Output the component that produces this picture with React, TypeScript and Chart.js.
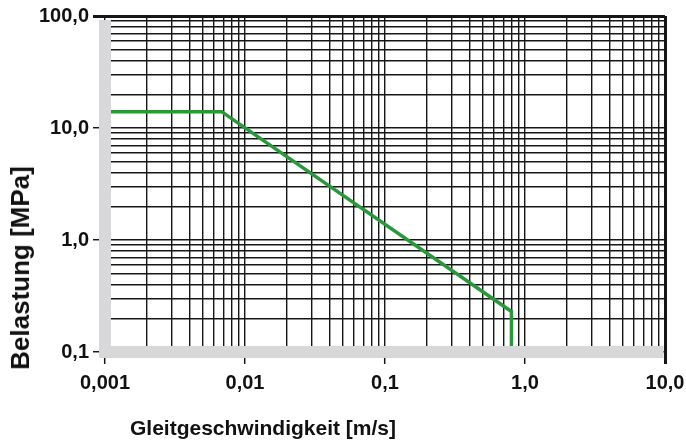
import React, { useEffect, useRef } from "react";
import { Chart, registerables } from "chart.js";

Chart.register(...registerables);

// Data
const speedValues = [0.001, 0.0068, 0.8, 0.8];
const loadValues = [14, 14, 0.23, 0.1];

// Axis decades and their tick labels
const xDecades = [0.001, 0.01, 0.1, 1, 10];
const xTickLabels = ["0,001", "0,01", "0,1", "1,0", "10,0"];
const yDecades = [0.1, 1, 10, 100];
const yTickLabels = ["0,1", "1,0", "10,0", "100,0"];

const xTitle = "Gleitgeschwindigkeit [m/s]";
const yTitle = "Belastung [MPa]";

const FONT = "'Liberation Sans', Arial, Helvetica, sans-serif";
const GRID = "#161616";
const GREEN = "#28983a";
const BAND = "#d8d8da";

function gridValues(decades: number[]): number[] {
  const out: number[] = [];
  for (let i = 0; i < decades.length - 1; i++) {
    for (let m = 1; m <= 9; m++) out.push(parseFloat((m * decades[i]).toPrecision(6)));
  }
  out.push(decades[decades.length - 1]);
  return out;
}

function decadeIndex(v: number, decades: number[]): number {
  return decades.findIndex((d) => Math.abs(Math.log10(v) - Math.log10(d)) < 1e-6);
}

const xGrid = gridValues(xDecades);
const yGrid = gridValues(yDecades);

const bandPlugin = {
  id: "bands",
  afterDatasetsDraw(chart: any) {
    const { ctx, chartArea } = chart;
    const { left, right, top, bottom } = chartArea;
    ctx.save();
    ctx.fillStyle = BAND;
    ctx.fillRect(left - 6, top + 4, 12, bottom + 6 - (top + 4));
    ctx.fillRect(left - 6, bottom - 6, right - 1.5 - (left - 6), 12);
    ctx.restore();
  },
};

export default function App() {
  const canvasRef = useRef<HTMLCanvasElement | null>(null);

  useEffect(() => {
    const canvas = canvasRef.current;
    if (!canvas) return;
    const tickFont = { family: FONT, size: 20, weight: "bold" as const };

    const chart = new Chart(canvas, {
      type: "scatter",
      data: {
        datasets: [
          {
            data: speedValues.map((x, i) => ({ x, y: loadValues[i] })),
            borderColor: GREEN,
            backgroundColor: GREEN,
            borderWidth: 3.5,
            pointRadius: 0,
            showLine: true,
            fill: false,
            tension: 0,
            borderJoinStyle: "miter",
          } as any,
        ],
      },
      options: {
        animation: false,
        responsive: false,
        devicePixelRatio: 1,
        layout: { padding: { top: 16, right: 21, left: 0, bottom: 0 } },
        plugins: { legend: { display: false }, tooltip: { enabled: false } },
        scales: {
          x: {
            type: "logarithmic",
            position: "bottom",
            min: xDecades[0],
            max: xDecades[xDecades.length - 1],
            afterBuildTicks: (s: any) => {
              s.ticks = xGrid.map((v) => ({ value: v }));
            },
            afterFit: (s: any) => {
              s.height = 89;
              s.paddingLeft = 0;
              s.paddingRight = 0;
            },
            ticks: {
              autoSkip: false,
              maxRotation: 0,
              minRotation: 0,
              padding: 7,
              color: "#111",
              font: tickFont,
              callback: (v: any) => {
                const i = decadeIndex(Number(v), xDecades);
                return i >= 0 ? xTickLabels[i] : "";
              },
            },
            grid: {
              color: GRID,
              lineWidth: (c: any) =>
                c.tick && decadeIndex(c.tick.value, xDecades) === xDecades.length - 1 ? 3 : 1.4,
              tickLength: 12,
              tickColor: (c: any) =>
                c.tick && decadeIndex(c.tick.value, xDecades) >= 0 ? GRID : "rgba(0,0,0,0)",
              tickWidth: (c: any) =>
                c.tick && decadeIndex(c.tick.value, xDecades) === xDecades.length - 1 ? 3 : 1.5,
            },
            border: { display: false },
          } as any,
          y: {
            type: "logarithmic",
            position: "left",
            min: yDecades[0],
            max: yDecades[yDecades.length - 1],
            afterBuildTicks: (s: any) => {
              s.ticks = yGrid.map((v) => ({ value: v }));
            },
            afterFit: (s: any) => {
              s.width = 105;
              s.paddingTop = 0;
              s.paddingBottom = 0;
            },
            ticks: {
              autoSkip: false,
              padding: 4,
              color: "#111",
              font: tickFont,
              callback: (v: any) => {
                const i = decadeIndex(Number(v), yDecades);
                return i >= 0 ? yTickLabels[i] : "";
              },
            },
            grid: {
              color: GRID,
              lineWidth: (c: any) =>
                c.tick && decadeIndex(c.tick.value, yDecades) === yDecades.length - 1 ? 3 : 1.4,
              tickLength: 12,
              tickColor: (c: any) =>
                c.tick && decadeIndex(c.tick.value, yDecades) >= 0 ? GRID : "rgba(0,0,0,0)",
              tickWidth: (c: any) =>
                c.tick && decadeIndex(c.tick.value, yDecades) === yDecades.length - 1 ? 3 : 1.5,
            },
            border: { display: false },
          } as any,
        },
      },
      plugins: [bandPlugin],
    });

    return () => chart.destroy();
  }, []);

  const titleStyle: React.CSSProperties = {
    position: "absolute",
    fontFamily: FONT,
    fontWeight: "bold",
    color: "#111",
    whiteSpace: "nowrap",
    lineHeight: 1,
  };

  return (
    <div
      style={{
        position: "fixed",
        left: 0,
        top: 0,
        width: 686,
        height: 441,
        background: "#fff",
        overflow: "hidden",
      }}
    >
      <canvas ref={canvasRef} width={686} height={441} style={{ position: "absolute", left: 0, top: 0 }} />
      <div style={{ ...titleStyle, fontSize: 21, left: 263, top: 427, transform: "translate(-50%, -50%)" }}>
        {xTitle}
      </div>
      <div
        style={{
          ...titleStyle,
          fontSize: 26,
          left: 20,
          top: 268,
          transform: "translate(-50%, -50%) rotate(-90deg)",
        }}
      >
        {yTitle}
      </div>
    </div>
  );
}
